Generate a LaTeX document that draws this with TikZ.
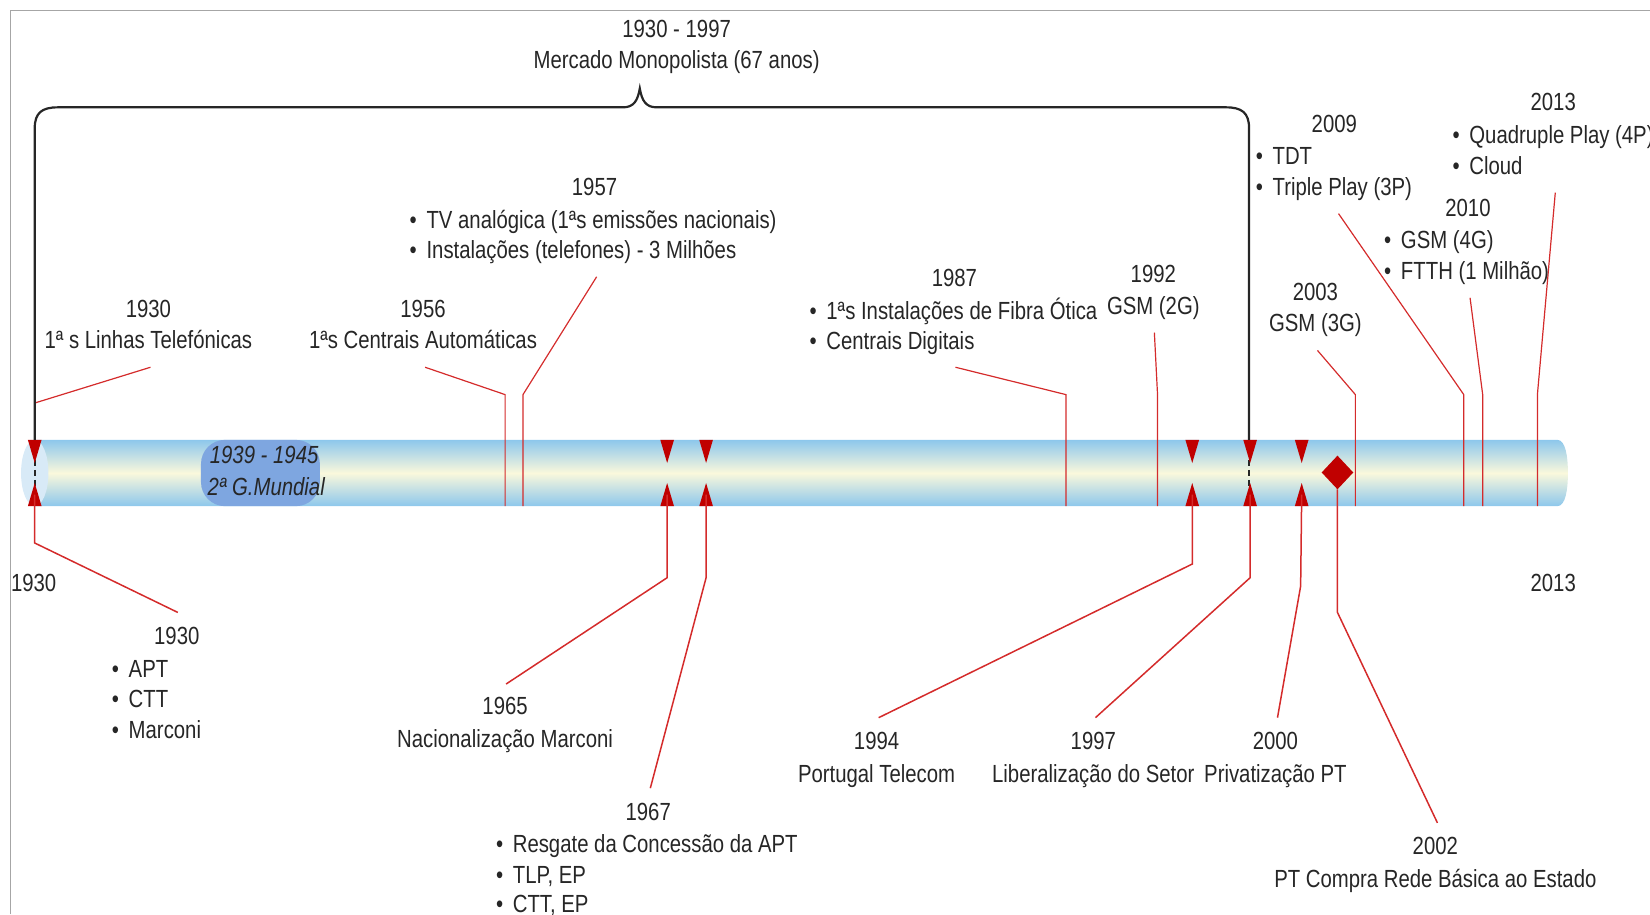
\documentclass[tikz,border=0pt]{standalone}
\usepackage{fontspec}
\setmainfont{Liberation Sans}[FakeStretch=0.82]
\definecolor{txt}{HTML}{262626}
\definecolor{mred}{HTML}{C00000}
\definecolor{lred}{HTML}{D42B2B}
\definecolor{barblue}{HTML}{8DC7EC}
\definecolor{barcream}{HTML}{FAF8DC}
\definecolor{wwii}{HTML}{7EA6E0}
\definecolor{capc}{HTML}{D8EAF7}
\definecolor{framec}{HTML}{A6A6A6}
\newcommand\ctr[4]{\node[lbl] (#1) at (#2,#3) {#4};}
\newcommand\blt[4]{\node[lbl, anchor=west] (#1) at (#2,#3) {\makebox[8.4pt][l]{\textbullet}#4};}
\newcommand\tris[2]{%
  \fill[mred] ({#2-6.5},418) -- ({#2+6.5},418) -- (#2,440) -- cycle;
  \fill[mred] ({#2-6.5},481) -- ({#2+6.5},481) -- (#2,459) -- cycle;
  \coordinate (#1) at (#2,470);}
\begin{document}
\begin{tikzpicture}[x=0.52615pt,y=-0.52615pt,
  lbl/.style={inner sep=0pt, text height=8.9pt, text depth=0pt, font=\fontsize{12.4}{15}\selectfont, text=txt},
  lead/.style={draw=lred, line width=0.6pt},
  leadb/.style={draw=lred, line width=0.75pt},
  brk/.style={draw=txt, line width=1.1pt},
  dsh/.style={draw=txt, line width=0.8pt, dash pattern=on 3pt off 2pt}]
\useasboundingbox (0,0) rectangle (1568,869);
% frame
\draw[framec, line width=0.6pt] (10,869) -- (10,10) -- (1568,10);
% bar
\shade[top color=barblue, bottom color=barblue, middle color=barcream]
  (33,418) -- (1480,418) .. controls (1488,418) and (1490,435) .. (1490,449.5)
  .. controls (1490,464) and (1488,481) .. (1480,481) -- (33,481) -- cycle;
\fill[wwii, rounded corners=12pt] (191,418) rectangle (304,481);
\fill[capc] (33,449.5) ellipse [x radius=13, y radius=31.5];
\node[lbl, font=\fontsize{12.4}{15}\selectfont\itshape] (w1) at (251,432) {1939 - 1945};
\node[lbl, font=\fontsize{12.4}{15}\selectfont\itshape] (w2) at (253,462) {2ª G.Mundial};
% top leaders
\coordinate (a1930t) at (143,349); \coordinate (m1930t) at (33,418);
\draw[lead] (a1930t) -- (33,383) -- (m1930t);
\coordinate (a1956) at (404,349); \coordinate (m1956) at (480,481);
\draw[lead] (a1956) -- (480,375) -- (m1956);
\coordinate (a1957) at (567,263); \coordinate (m1957) at (497,481);
\draw[lead] (a1957) -- (497,375) -- (m1957);
\coordinate (a1987) at (908,349); \coordinate (m1987) at (1013,481);
\draw[lead] (a1987) -- (1013,375) -- (m1987);
\coordinate (a1992) at (1097,316); \coordinate (m1992) at (1100,481);
\draw[lead] (a1992) -- (1100,375) -- (m1992);
\coordinate (a2003) at (1252,333); \coordinate (m2003) at (1288,481);
\draw[lead] (a2003) -- (1288,375) -- (m2003);
\coordinate (a2009) at (1272,203); \coordinate (m2009) at (1391,481);
\draw[lead] (a2009) -- (1391,375) -- (m2009);
\coordinate (a2010) at (1397,283); \coordinate (m2010) at (1409,481);
\draw[lead] (a2010) -- (1409,375) -- (m2010);
\coordinate (a2013) at (1478,183); \coordinate (m2013) at (1461,481);
\draw[lead] (a2013) -- (1461,375) -- (m2013);
% dashed lines through the bar
\draw[dsh] (33,418) -- (33,481);
\draw[dsh] (1187,418) -- (1187,481);
% markers
\tris{k1930}{33}
\tris{k1965}{634}
\tris{k1967}{671}
\tris{k1994}{1133}
\tris{k1997}{1188}
\tris{k2000}{1237}
\fill[mred] (1271,433) -- (1286,449) -- (1271,465) -- (1256,449) -- cycle;
\coordinate (k2002) at (1271,465);
% bottom leaders
\coordinate (b1930) at (169,582); \draw[leadb] (b1930) -- (33,516) -- (k1930);
\coordinate (b1965) at (481,650); \draw[leadb] (b1965) -- (634,549) -- (k1965);
\coordinate (b1967) at (618,749); \draw[leadb] (b1967) -- (671,549) -- (k1967);
\coordinate (b1994) at (835,682); \draw[leadb] (b1994) -- (1133,536) -- (k1994);
\coordinate (b1997) at (1041,682); \draw[leadb] (b1997) -- (1188,549) -- (k1997);
\coordinate (b2000) at (1214,682); \draw[leadb] (b2000) -- (1236,557) -- (k2000);
\coordinate (b2002) at (1366,782); \draw[leadb] (b2002) -- (1271,582) -- (k2002);
% bracket
\draw[brk] (33,418) -- (33,122) .. controls (33,107) and (40,102) .. (55,102) -- (592,102)
  .. controls (602,102) and (606,96) .. (608,84) .. controls (610,96) and (614,102) .. (624,102)
  -- (1165,102) .. controls (1180,102) and (1187,107) .. (1187,122) -- (1187,418);
% top texts
\ctr{t1}{643}{27}{1930 - 1997}
\ctr{t2}{643}{57}{Mercado Monopolista (67 anos)}
\ctr{y1930t}{141}{293}{1930}
\ctr{x1930t}{141}{323}{1ª s Linhas Telefónicas}
\ctr{y1956}{402}{293}{1956}
\ctr{x1956}{402}{323}{1ªs Centrais Automáticas}
\ctr{y1957}{565}{177}{1957}
\blt{x1957a}{389}{209}{TV analógica (1ªs emissões nacionais)}
\blt{x1957b}{389}{237}{Instalações (telefones) - 3 Milhões}
\ctr{y1987}{907}{264}{1987}
\blt{x1987a}{769}{295}{1ªs Instalações de Fibra Ótica}
\blt{x1987b}{769}{324}{Centrais Digitais}
\ctr{y1992}{1096}{260}{1992}
\ctr{x1992}{1096}{290}{GSM (2G)}
\ctr{y2003}{1250}{277}{2003}
\ctr{x2003}{1250}{307}{GSM (3G)}
\ctr{y2009}{1268}{117}{2009}
\blt{x2009a}{1193}{148}{TDT}
\blt{x2009b}{1193}{177}{Triple Play (3P)}
\ctr{y2010}{1395}{197}{2010}
\blt{x2010a}{1315}{228}{GSM (4G)}
\blt{x2010b}{1315}{257}{FTTH (1 Milhão)}
\ctr{y2013}{1476}{97}{2013}
\blt{x2013a}{1380}{128}{Quadruple Play (4P)}
\blt{x2013b}{1380}{157}{Cloud}
% axis ends
\ctr{e1930}{32}{554}{1930}
\ctr{e2013}{1476}{554}{2013}
% bottom texts
\ctr{y1930b}{168}{604}{1930}
\blt{x1930a}{106}{635}{APT}
\blt{x1930b}{106}{664}{CTT}
\blt{x1930c}{106}{693}{Marconi}
\ctr{y1965}{480}{671}{1965}
\ctr{x1965}{480}{702}{Nacionalização Marconi}
\ctr{y1967}{616}{771}{1967}
\blt{x1967a}{471}{802}{Resgate da Concessão da APT}
\blt{x1967b}{471}{831}{TLP, EP}
\blt{x1967c}{471}{859}{CTT, EP}
\ctr{y1994}{833}{704}{1994}
\ctr{x1994}{833}{735}{Portugal Telecom}
\ctr{y1997}{1039}{704}{1997}
\ctr{x1997}{1039}{735}{Liberalização do Setor}
\ctr{y2000}{1212}{704}{2000}
\ctr{x2000}{1212}{735}{Privatização PT}
\ctr{y2002}{1364}{804}{2002}
\ctr{x2002}{1364}{835}{PT Compra Rede Básica ao Estado}
\end{tikzpicture}
\end{document}
